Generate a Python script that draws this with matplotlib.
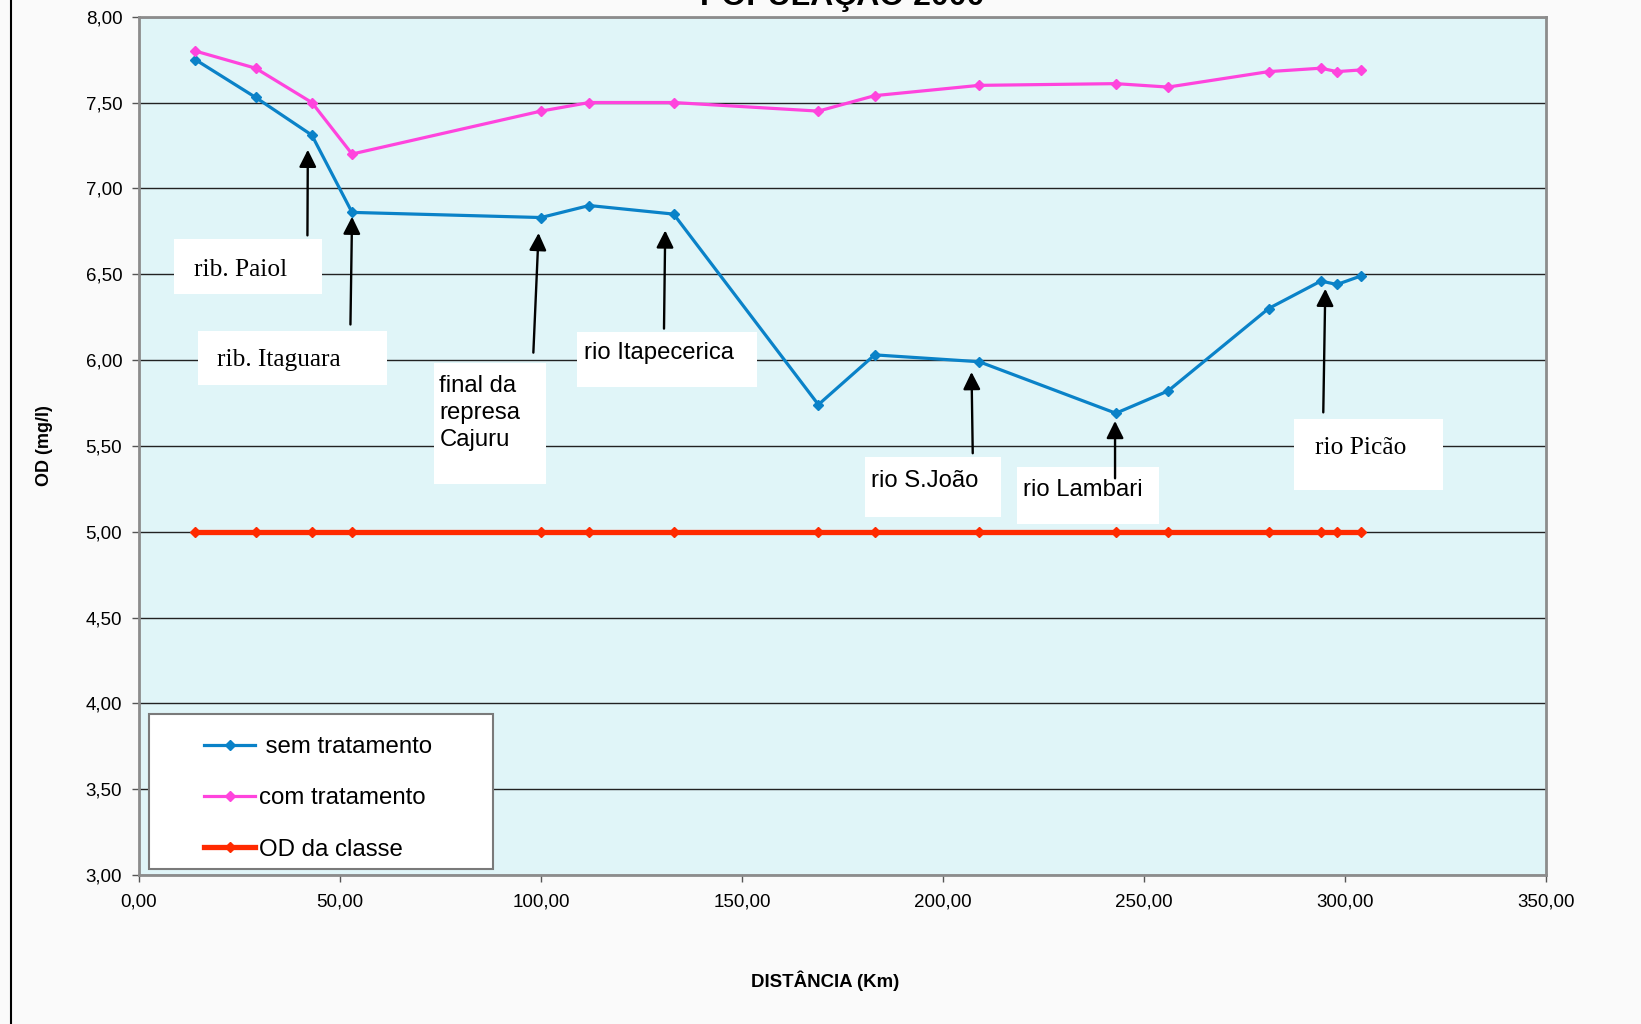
import numpy as np
import matplotlib
matplotlib.use("Agg")
import matplotlib.pyplot as plt
from matplotlib.patches import Rectangle
from matplotlib.lines import Line2D
from matplotlib.legend_handler import HandlerLine2D
from matplotlib.ticker import FuncFormatter, MultipleLocator

plt.rcParams['font.family'] = ['Liberation Sans', 'DejaVu Sans']

# distancia ao longo do rio (km) e OD simulado (mg/l)
dist_km = [14, 29, 43, 53, 100, 112, 133, 169, 183, 209, 243, 256, 281, 294, 298, 304]
od_sem_trat = [7.75, 7.53, 7.31, 6.86, 6.83, 6.90, 6.85, 5.74, 6.03, 5.99, 5.69, 5.82, 6.30, 6.46, 6.44, 6.49]
od_com_trat = [7.80, 7.70, 7.50, 7.20, 7.45, 7.50, 7.50, 7.45, 7.54, 7.60, 7.61, 7.59, 7.68, 7.70, 7.68, 7.69]
od_classe = [5.00] * len(dist_km)

series_labels = [" sem tratamento", "com tratamento", "OD da classe"]

# afluentes marcados no grafico
trib_names = ["rib. Paiol", "rib. Itaguara", "final da\nrepresa\nCajuru", "rio Itapecerica",
              "rio S.João", "rio Lambari", "rio Picão"]
trib_idx = [2, 3, 4, 6, 9, 10, 13]

c_sem = '#0A82C8'
c_com = '#FF44DD'
c_cls = '#FF2A00'

fig = plt.figure(figsize=(16.41, 10.24), dpi=100)
fig.patch.set_facecolor('#FAFAFA')
ax = fig.add_axes([0.0847, 0.1455, 0.8574, 0.8382])
ax.set_facecolor('#E0F5F8')

ax.plot(dist_km, od_sem_trat, color=c_sem, lw=2.3, marker='D', ms=5, zorder=5)
ax.plot(dist_km, od_com_trat, color=c_com, lw=2.3, marker='D', ms=5, zorder=5)
ax.plot(dist_km, od_classe, color=c_cls, lw=3.8, marker='D', ms=5, zorder=5)

ax.set_xlim(0, 350)
ax.set_ylim(3, 8)
ax.xaxis.set_major_locator(MultipleLocator(50))
ax.yaxis.set_major_locator(MultipleLocator(0.5))
fmt = FuncFormatter(lambda v, p: f"{v:.2f}".replace('.', ','))
ax.xaxis.set_major_formatter(fmt)
ax.yaxis.set_major_formatter(fmt)
ax.tick_params(labelsize=13.5, length=5, width=1, color='#555555', pad=7)
ax.tick_params(axis='x', pad=8)
ax.yaxis.grid(True, color='#222222', lw=1.0)
ax.set_axisbelow(True)
for s in ax.spines.values():
    s.set_color('#8C8C8C')
    s.set_linewidth(2)

# caixas de texto e setas dos afluentes
boxes = [(8.8, 6.384, 36.7, 0.323), (14.6, 5.854, 47.1, 0.317), (73.4, 5.28, 27.8, 0.702),
         (109.0, 5.841, 44.8, 0.324), (180.6, 5.085, 33.8, 0.348), (218.3, 5.043, 35.4, 0.335),
         (287.3, 5.244, 37.2, 0.415)]
text_pos = [(13.8, 6.525), (19.3, 6.0), (74.7, 5.915), (110.6, 6.04), (182.1, 5.295),
            (219.9, 5.24), (292.5, 5.485)]
serif = [True, True, False, False, False, False, True]
tails = [(41.9, 6.726), (52.6, 6.207), (98.1, 6.043), (130.6, 6.183), (207.4, 5.457),
         (242.8, 5.311), (294.6, 5.695)]
tip_dx = [-1.0, 0.0, -0.6, -2.1, -1.9, -0.2, 1.1]
tip_gap = [0.085, 0.025, 0.09, 0.095, 0.06, 0.045, 0.045]

for name, i, bx, tp, sf, tl, dx, gap in zip(trib_names, trib_idx, boxes, text_pos, serif,
                                              tails, tip_dx, tip_gap):
    ax.add_patch(Rectangle((bx[0], bx[1]), bx[2], bx[3], facecolor='white',
                           edgecolor='none', zorder=3))
    if sf:
        ax.text(tp[0], tp[1], name, family='Liberation Serif', fontsize=18.3,
                ha='left', va='center', zorder=4)
    elif '\n' in name:
        ax.text(tp[0], tp[1], name, fontsize=17.2, ha='left', va='top',
                linespacing=1.32, zorder=4)
    else:
        ax.text(tp[0], tp[1], name, fontsize=17.2, ha='left', va='center', zorder=4)
    ax.annotate('', xy=(dist_km[i] + dx, od_sem_trat[i] - gap), xytext=tl,
                arrowprops=dict(arrowstyle='-|>', color='black', lw=1.7,
                                mutation_scale=26, shrinkA=0, shrinkB=0),
                zorder=4)

# legenda
ax.add_patch(Rectangle((0.0074, 0.0073), 0.244, 0.18, transform=ax.transAxes,
                       facecolor='white', edgecolor='#7A7A7A', lw=1.5, zorder=6))
handles = [Line2D([], [], color=c_sem, lw=2.3, marker='D', ms=5),
           Line2D([], [], color=c_com, lw=2.3, marker='D', ms=5),
           Line2D([], [], color=c_cls, lw=3.8, marker='D', ms=5)]
leg = ax.legend(handles, series_labels, loc='lower left', bbox_to_anchor=(0.0074, 0.0),
                frameon=False, fontsize=17.3, handlelength=3.81, labelspacing=1.22,
                handletextpad=0.15, borderpad=0.1,
                handler_map={Line2D: HandlerLine2D(xpad=1.68, marker_pad=0.3, numpoints=1)})
leg.set_zorder(7)

ax.set_ylabel("OD (mg/l)", fontsize=13, fontweight='bold', labelpad=0)
ax.yaxis.set_label_coords(-0.061, 0.5)
ax.set_xlabel("DISTÂNCIA (Km)", fontsize=13.4, fontweight='bold')
ax.xaxis.set_label_coords(0.4878, -0.111)

fig.text(0.5135, 0.9955, "POPULAÇÃO 2000", fontsize=23, fontweight='bold',
         ha='center', va='baseline')

# borda esquerda da pagina
fig.add_artist(Line2D([11 / 1641, 11 / 1641], [0, 1], color='black', lw=1.5,
                      transform=fig.transFigure))

fig.savefig("out.png", dpi=100, facecolor=fig.get_facecolor())
